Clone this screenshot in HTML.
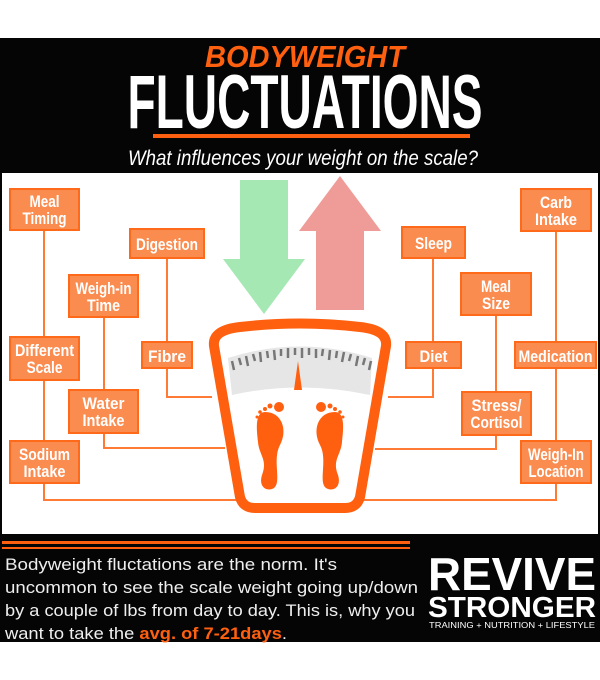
<!DOCTYPE html>
<html><head><meta charset="utf-8"><style>
html,body{margin:0;padding:0;background:#fff;}
svg{display:block;}
</style></head><body>
<svg width="600" height="680" viewBox="0 0 600 680" xmlns="http://www.w3.org/2000/svg">
<rect x="0" y="0" width="600" height="680" fill="#fff"/>
<rect x="0" y="38" width="600" height="604" fill="#050505"/>
<rect x="2" y="173" width="596" height="361" fill="#fff"/>
<!-- header -->
<text x="305" y="67" text-anchor="middle" font-family="Liberation Sans,sans-serif" font-weight="bold" font-style="italic" font-size="31" fill="#ff6010" textLength="200" lengthAdjust="spacingAndGlyphs">BODYWEIGHT</text>
<text x="305" y="128" text-anchor="middle" font-family="Liberation Sans,sans-serif" font-weight="bold" font-size="76" fill="#fff" textLength="355" lengthAdjust="spacingAndGlyphs">FLUCTUATIONS</text>
<rect x="153" y="134" width="317" height="4" fill="#ff6010"/>
<text x="303" y="165" text-anchor="middle" font-family="Liberation Sans,sans-serif" font-style="italic" font-size="21" fill="#fff" textLength="350" lengthAdjust="spacingAndGlyphs">What influences your weight on the scale?</text>
<!-- arrows -->
<polygon points="240,180 288,180 288,259 305,259 264,314 223,259 240,259" fill="#a6e8b4"/>
<polygon points="340,176 381,231 364,231 364,310 316,310 316,231 299,231" fill="#ef9c99"/>
<!-- connectors -->
<g stroke="#ff7a35" stroke-width="2" fill="none">
<polyline points="44,230 44,500 240,500"/>
<polyline points="104,317 104,448 225,448"/>
<polyline points="167,258 167,397 212,397"/>
<polyline points="556,231 556,500 356,500"/>
<polyline points="496,315 496,449 375,449"/>
<polyline points="433,258 433,397 388,397"/>
</g>
<!-- boxes -->
<g fill="#fb8c50" stroke="#ff6a1a" stroke-width="2">
<rect x="10" y="189" width="69" height="41"/>
<rect x="130" y="229" width="74" height="29"/>
<rect x="69" y="275" width="69" height="42"/>
<rect x="10" y="337" width="69" height="43"/>
<rect x="142" y="342" width="50" height="26"/>
<rect x="69" y="390" width="69" height="43"/>
<rect x="10" y="441" width="69" height="42"/>
<rect x="521" y="189" width="70" height="42"/>
<rect x="402" y="227" width="63" height="31"/>
<rect x="461" y="273" width="70" height="42"/>
<rect x="406" y="342" width="55" height="26"/>
<rect x="515" y="342" width="81" height="26"/>
<rect x="462" y="392" width="69" height="43"/>
<rect x="521" y="441" width="70" height="42"/>
</g>
<g text-anchor="middle" font-family="Liberation Sans,sans-serif" font-weight="bold" font-size="17" fill="#fff">
<text x="44.5" y="207" textLength="30" lengthAdjust="spacingAndGlyphs">Meal</text>
<text x="44.5" y="224" textLength="44" lengthAdjust="spacingAndGlyphs">Timing</text>
<text x="167" y="250" textLength="62" lengthAdjust="spacingAndGlyphs">Digestion</text>
<text x="103.5" y="294" textLength="56" lengthAdjust="spacingAndGlyphs">Weigh-in</text>
<text x="103.5" y="311" textLength="33" lengthAdjust="spacingAndGlyphs">Time</text>
<text x="44.5" y="356" textLength="59" lengthAdjust="spacingAndGlyphs">Different</text>
<text x="44.5" y="373" textLength="36" lengthAdjust="spacingAndGlyphs">Scale</text>
<text x="167" y="362" textLength="38" lengthAdjust="spacingAndGlyphs">Fibre</text>
<text x="103.5" y="409" textLength="42" lengthAdjust="spacingAndGlyphs">Water</text>
<text x="103.5" y="426" textLength="42" lengthAdjust="spacingAndGlyphs">Intake</text>
<text x="44.5" y="460" textLength="51" lengthAdjust="spacingAndGlyphs">Sodium</text>
<text x="44.5" y="477" textLength="42" lengthAdjust="spacingAndGlyphs">Intake</text>
<text x="556" y="208" textLength="32" lengthAdjust="spacingAndGlyphs">Carb</text>
<text x="556" y="225" textLength="42" lengthAdjust="spacingAndGlyphs">Intake</text>
<text x="433.5" y="249" textLength="37" lengthAdjust="spacingAndGlyphs">Sleep</text>
<text x="496" y="292" textLength="30" lengthAdjust="spacingAndGlyphs">Meal</text>
<text x="496" y="309" textLength="28" lengthAdjust="spacingAndGlyphs">Size</text>
<text x="433.5" y="362" textLength="28" lengthAdjust="spacingAndGlyphs">Diet</text>
<text x="555.5" y="362" textLength="74" lengthAdjust="spacingAndGlyphs">Medication</text>
<text x="496.5" y="411" textLength="50" lengthAdjust="spacingAndGlyphs">Stress/</text>
<text x="496.5" y="428" textLength="52" lengthAdjust="spacingAndGlyphs">Cortisol</text>
<text x="556" y="460" textLength="56" lengthAdjust="spacingAndGlyphs">Weigh-In</text>
<text x="556" y="477" textLength="55" lengthAdjust="spacingAndGlyphs">Location</text>
</g>
<!-- scale -->
<path d="M214,346 Q212,330 240,327 Q300,320 360,327 Q388,330 386,346 L360,497 Q357,508 345,508 L255,508 Q243,508 240,497 Z" fill="#fff" stroke="#ff6010" stroke-width="10" stroke-linejoin="round"/>
<path d="M228,358 Q300,335 372,358 L370,395 Q300,380 232,395 Z" fill="#e6e6e6"/>
<g stroke="#777" stroke-width="2.5">
<line x1="232" y1="361" x2="234" y2="370"/><line x1="239" y1="358" x2="241" y2="365"/>
<line x1="246" y1="356" x2="248" y2="366"/><line x1="253" y1="354" x2="255" y2="361"/>
<line x1="260" y1="352" x2="261" y2="362"/><line x1="267" y1="351" x2="268" y2="358"/>
<line x1="274" y1="350" x2="275" y2="360"/><line x1="281" y1="349" x2="281" y2="356"/>
<line x1="288" y1="348" x2="288" y2="358"/><line x1="295" y1="348" x2="295" y2="355"/>
<line x1="302" y1="348" x2="302" y2="358"/><line x1="309" y1="348" x2="309" y2="355"/>
<line x1="316" y1="349" x2="316" y2="358"/><line x1="323" y1="349" x2="322" y2="356"/>
<line x1="330" y1="350" x2="329" y2="360"/><line x1="337" y1="351" x2="336" y2="358"/>
<line x1="344" y1="352" x2="342" y2="362"/><line x1="351" y1="354" x2="349" y2="361"/>
<line x1="358" y1="356" x2="356" y2="366"/><line x1="365" y1="358" x2="363" y2="365"/>
<line x1="371" y1="361" x2="369" y2="370"/>
</g>
<polygon points="298,361 302,390 294,390" fill="#ff6010"/>
<g fill="#ff6010">
<path d="M265,412 C254,412 257,432 258,442 C259,455 268,460 262,475 C258,488 268,492 274,488 C282,482 272,460 280,445 C288,430 282,412 265,412 Z"/>
<circle cx="279" cy="407" r="5"/><circle cx="270" cy="406" r="2.5"/><circle cx="265" cy="409" r="2"/><circle cx="260" cy="412" r="1.8"/><circle cx="257" cy="417" r="1.5"/>
<path d="M335,412 C346,412 343,432 342,442 C341,455 332,460 338,475 C342,488 332,492 326,488 C318,482 328,460 320,445 C312,430 318,412 335,412 Z"/>
<circle cx="321" cy="407" r="5"/><circle cx="330" cy="406" r="2.5"/><circle cx="335" cy="409" r="2"/><circle cx="340" cy="412" r="1.8"/><circle cx="343" cy="417" r="1.5"/>
</g>
<!-- footer -->
<rect x="2" y="541" width="408" height="3" fill="#ff6010"/>
<rect x="2" y="547" width="408" height="2" fill="#ff6010"/>
<g font-family="Liberation Sans,sans-serif" font-size="17" fill="#eee">
<text x="5" y="570" textLength="332" lengthAdjust="spacingAndGlyphs">Bodyweight fluctations are the norm. It's</text>
<text x="5" y="593" textLength="413" lengthAdjust="spacingAndGlyphs">uncommon to see the scale weight going up/down</text>
<text x="5" y="616" textLength="410" lengthAdjust="spacingAndGlyphs">by a couple of lbs from day to day. This is, why you</text>
<text x="5" y="639" textLength="282" lengthAdjust="spacingAndGlyphs">want to take the <tspan fill="#ff6010" font-weight="bold">avg. of 7-21days</tspan>.</text>
</g>
<text x="428" y="590" font-family="Liberation Sans,sans-serif" font-weight="bold" font-size="46" fill="#fff" textLength="168" lengthAdjust="spacingAndGlyphs">REVIVE</text>
<text x="428" y="617" font-family="Liberation Sans,sans-serif" font-weight="bold" font-size="29" fill="#fff" textLength="168" lengthAdjust="spacingAndGlyphs">STRONGER</text>
<text x="429" y="628" font-family="Liberation Sans,sans-serif" font-size="8" fill="#fff" textLength="166" lengthAdjust="spacingAndGlyphs">TRAINING + NUTRITION + LIFESTYLE</text>
</svg>
</body></html>
